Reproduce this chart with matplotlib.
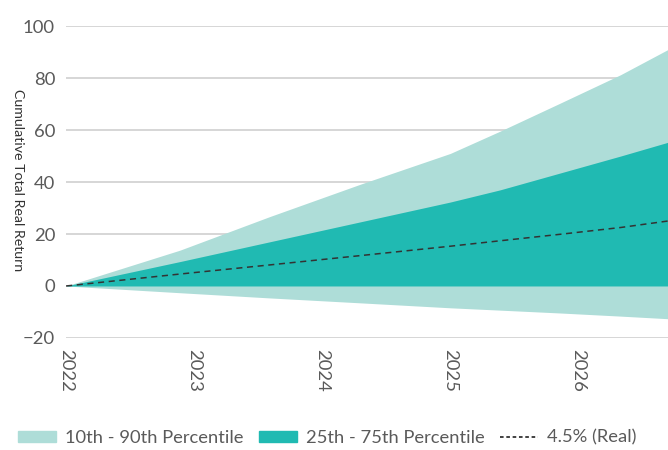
import matplotlib.pyplot as plt
from matplotlib.patches import Patch
from matplotlib.lines import Line2D

plt.rcParams['font.family'] = ['Lato', 'DejaVu Sans']

# values (x in years)
years = [2022.0, 2022.89, 2023.59, 2024.3, 2025.0, 2025.39, 2025.86, 2026.33, 2026.7]
p10 = [0, -2.6, -4.6, -6.5, -8.4, -9.3, -10.4, -11.6, -12.6]
p25 = [0, 0, 0, 0, 0, 0, 0, 0, 0]
p75 = [0, 9.4, 17.0, 24.7, 32.3, 37.0, 43.5, 50.0, 55.3]
p90 = [0, 13.8, 26.7, 39.2, 51.0, 59.6, 70.4, 81.3, 91.0]
real = [0, 4.6, 8.1, 11.7, 15.3, 17.4, 19.9, 22.5, 25.0]
xticks = [2022, 2023, 2024, 2025, 2026]

light = '#aeddd8'
dark = '#20bab2'
txt = '#5a5a5a'

fig = plt.figure(figsize=(6.68, 4.5), dpi=100)
ax = fig.add_axes([0.099, 0.249, 0.901, 0.693])

ax.fill_between(years, p10, p90, color=light, lw=0, zorder=2)
ax.fill_between(years, p25, p75, color=dark, lw=0, zorder=3)
ax.plot(years, real, color='#333333', ls=(0, (4, 3)), lw=1.1, zorder=4)

ax.set_xlim(2022, 2026.7)
ax.set_ylim(-20, 100)
ax.set_yticks(range(-20, 101, 20))
ax.set_xticks(xticks)
ax.set_xticklabels([str(x) for x in xticks], rotation=-90, va='top', ha='center')
ax.grid(axis='y', color='#d6d6d6', lw=1.4, zorder=0)
ax.set_axisbelow(True)
for s in ax.spines.values():
    s.set_visible(False)
ax.tick_params(length=0, labelsize=13.3, colors=txt)
ax.tick_params(axis='y', pad=8)
ax.tick_params(axis='x', pad=8)

fig.text(0.027, 0.60, 'Cumulative Total Real Return', rotation=-90,
         ha='center', va='center', fontsize=10.2, color='#333333')

handles = [Patch(color=light, label='10th - 90th Percentile'),
           Patch(color=dark, label='25th - 75th Percentile'),
           Line2D([], [], color='#333333', ls=(0, (2, 1.5)), lw=1.3,
                  label='4.5% (Real)')]
fig.legend(handles=handles, loc='center', bbox_to_anchor=(0.49, 0.027),
           ncol=3, frameon=False, fontsize=13.2, handlelength=2.1,
           handleheight=0.55, handletextpad=0.5, columnspacing=0.8,
           labelcolor=txt)

fig.savefig('out.png', dpi=100)
